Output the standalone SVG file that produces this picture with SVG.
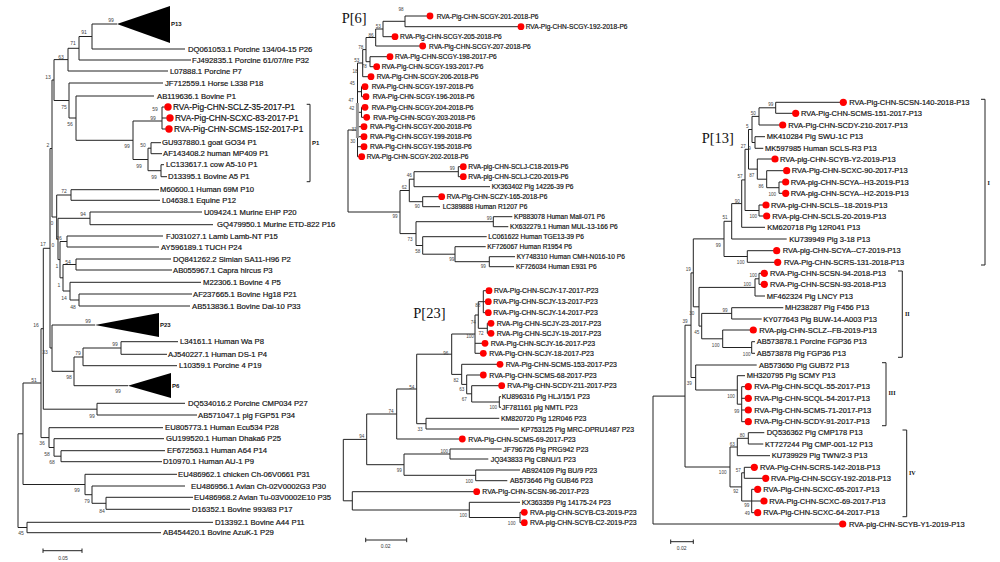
<svg xmlns="http://www.w3.org/2000/svg" width="1000" height="562" viewBox="0 0 1000 562">
<style>
.br{fill:none;stroke:#222;stroke-width:1}
text{font-family:"Liberation Sans",Arial,sans-serif;fill:#111;dominant-baseline:central;stroke:#111;stroke-width:0.18px}
.lt{font-size:7.7px}
.lr{font-size:8.3px}
.m6{font-size:6.6px}
.m23{font-size:6.9px}
.m13{font-size:7.5px}
.bs{font-size:5px;fill:#444;stroke:none;text-anchor:middle}
.bs6{font-size:4.6px;fill:#444;stroke:none;text-anchor:middle}
.dot{fill:#ff0000}
.ttl{font-family:"Liberation Serif","Times New Roman",serif;font-size:14.5px;dominant-baseline:auto;stroke:none}
.rom{font-family:"Liberation Serif","Times New Roman",serif;font-size:6px;font-weight:bold;stroke:none}
.cl{font-size:6px;font-weight:bold;stroke:none}
.sc{font-size:5px;fill:#333;stroke:none;text-anchor:middle}
</style>
<rect width="1000" height="562" fill="#fff"/>

<g id="connectors">
<path class="br" d="M92 24H117 M92 24V49 M92 49H185 M79 36.5H92 M79 36.5V60 M79 60H191 M68 48.3H79 M68 48.3V71 M68 71H168 M54 59.6H68 M54 59.6V100.5 M52 80H54 M54 100.5H69 M69 83V118 M69 83H163 M69 118H76 M76 96V140.3 M76 96H154 M76 140.3H133 M133 121V159.5 M133 121H162 M162 107V129 M162 107H168 M162 118H170 M162 129H169 M133 159.5H148 M148 148.2V170.7 M148 148.2H151 M151 142.7V153.7 M151 142.7H161 M151 153.7H162 M148 170.7H161 M161 164.7V176.7 M161 164.7H164 M161 176.7H167 M52 80V217 M50 148.5H52 M52 217H56.7 M56.7 195V239 M56.7 195H71 M71 189.7V200.3 M71 189.7H159 M71 200.3H160 M56.7 239H58 M58 218.3V259.6 M58 218.3H90 M90 212V224.7 M90 212H202 M90 224.7H213 M58 259.6H60 M60 241.5V277.8 M60 241.5H67 M67 236V247 M67 236H163 M67 247H159 M60 277.8H63 M63 264.5V291 M63 264.5H76 M76 259V270 M76 259H171 M76 270H172 M63 291H70 M70 282.3V300 M70 282.3H201 M70 300H79 M79 294V306 M79 294H192 M79 306H190 M50 148.5V348 M43.3 248.3H50 M50 348H52 M52 325V371.3 M52 325H95 M52 371.3H74 M74 357V385.7 M74 357H83 M74 385.7H128 M83 348V365.7 M83 348H121 M83 365.7H177 M121 341.7V354.3 M121 341.7H178 M121 354.3H167 M43.3 248.3V409.2 M43.3 409.2H97 M97 403.3V415 M97 403.3H185 M97 415H197 M41 328.7H43.3 M41 328.7V437.6 M41 437.6H49 M49 427.7V447.5 M49 427.7H163 M49 447.5H54 M54 438.7V456.2 M54 438.7H164 M54 456.2H61 M61 450.7V461.7 M61 450.7H165 M61 461.7H162 M23 383H41 M23 383V484.5 M23 484.5H85 M85 474.3V494.7 M85 474.3H177 M85 494.7H92 M92 486V503.3 M92 486H185 M92 503.3H106 M106 497.3V509.3 M106 497.3H193 M106 509.3H190 M18 433.8H23 M18 433.8V527.5 M18 527.5H27 M27 522.3V532.7 M27 522.3H213 M27 532.7H161"/>
<path class="br" d="M306.7 104.3H310V181.7H306.7"/>
<path class="br" d="M43 550.7H82 M43 548.5V552.9 M82 548.5V552.9"/>

<path class="br" d="M405 16V26.7 M405 16H430 M405 26.7H521 M383 21.3H405 M383 21.3V36.7 M383 36.7H395 M375.7 29H383 M375.7 29V46 M375.7 46H422.7 M366 37.5H375.7 M366 37.5V61.7 M366 61.7H370 M370 56.7V66.7 M370 56.7H390 M370 66.7H376.7 M362.7 49.6H366 M362.7 49.6V76.7 M362.7 76.7H371 M357.5 63H362.7 M357.5 63V156.7 M357.5 91.7H361.5 M361.5 86.7V96.7 M361.5 86.7H365 M361.5 96.7H366 M357.5 112.3H361.5 M361.5 107.3V117.3 M361.5 107.3H365 M361.5 117.3H366.7 M357.5 126.7H364 M357.5 136.7H364 M357.5 146.7H364 M357.5 156.7H361.7 M348 130H357.5 M348 130V212 M348 212H400 M400 190.5V233.6 M400 190.5H409.3 M409.3 179.2V201.7 M409.3 179.2H414 M414 171.7V186.7 M414 171.7H458.3 M458.3 166.7V176.7 M458.3 166.7H463.3 M458.3 176.7H463.3 M414 186.7H490 M409.3 201.7H422.7 M422.7 196.7V206.7 M422.7 196.7H441.7 M422.7 206.7H440 M400 233.6H416 M416 221.7V245.5 M416 221.7H493.3 M493.3 216.7V226.7 M493.3 216.7H512.3 M493.3 226.7H508.3 M416 245.5H422.7 M422.7 236.7V254.2 M422.7 236.7H486.7 M422.7 254.2H455 M455 246.7V261.7 M455 246.7H485.7 M455 261.7H489.3 M489.3 256.7V266.7 M489.3 256.7H515 M489.3 266.7H514"/>
<rect x="355.9" y="103" width="3" height="35" fill="#999"/>

<path class="br" d="M483.3 290.7V312.7 M483.3 290.7H489 M483.3 301.7H488.3 M483.3 312.7H488.3 M478.3 301.7H483.3 M487.3 323.3V333.3 M487.3 323.3H491 M487.3 333.3H491 M478.3 328.3H487.3 M478.3 301.7V328.3 M475 315H478.3 M475 315V353.3 M475 343.3H485 M475 353.3H483.3 M451.7 334H475 M499.3 396.7V407.3 M499.3 396.7H501 M499.3 407.3H501 M471.7 402H499.3 M471.7 385.7V402 M471.7 385.7H501.7 M466.7 393.8H471.7 M466.7 375V393.8 M466.7 375H483.3 M461.7 384.4H466.7 M461.7 364.3V384.4 M461.7 364.3H500 M451.7 374.4H461.7 M451.7 334V374.4 M416.7 354.2H451.7 M426 418.3V429 M426 418.3H499.3 M426 429H519 M416.7 423.7H426 M416.7 354.2V423.7 M396.7 389H416.7 M396.7 389V439 M396.7 439H462.3 M366.7 414H396.7 M450 449V459 M450 449H501.7 M450 459H488.3 M404 454H450 M475.7 470V480.7 M475.7 470H520 M475.7 480.7H507.3 M404 475.3H475.7 M404 454V475.3 M366.7 464.7H404 M366.7 414V464.7 M343.3 439.4H366.7 M520 512.3V522.7 M520 512.3H524.3 M520 522.7H524.3 M469.3 517.5H520 M469.3 502.3V517.5 M469.3 502.3H520 M352.3 510H469.3 M352.3 491.7V510 M352.3 491.7H476.7 M343.3 500.8H352.3 M343.3 439.4V500.8"/>
<path class="br" d="M365.7 540H406.7 M365.7 537.8V542.2 M406.7 537.8V542.2"/>

<path class="br" d="M775.7 102.3V113.3 M775.7 102.3H843.3 M775.7 113.3H795.7 M759 107.8H775.7 M759 107.8V125 M759 125H782.7 M752 116.4H759 M752 116.4V142.5 M752 142.5H755 M755 136.7V148.3 M755 136.7H765 M755 148.3H763.3 M748.5 129.5H752 M748.5 129.5V169.1 M748.5 169.1H757.3 M757.3 159V179.2 M757.3 159H775 M757.3 179.2H766.7 M766.7 170.7V187.7 M766.7 170.7H786.7 M766.7 187.7H779 M779 182V193.3 M779 182H785.7 M779 193.3H785.7 M745 149.3H748.5 M745 149.3V210.5 M745 210.5H759 M759 205V216 M759 205H766 M759 216H766.7 M741.7 179.9H745 M741.7 179.9V227.3 M741.7 227.3H765 M731.7 203.6H741.7 M731.7 203.6V239 M731.7 239H786.7 M724 221.3H731.7 M724 221.3V256.5 M724 256.5H747.3 M747.3 250.7V262.3 M747.3 250.7H776.7 M747.3 262.3H777.7 M693.3 238.9H724 M693.3 238.9V306.8 M759 273.3V284.3 M759 273.3H764.3 M759 284.3H764.3 M755 278.8H759 M755 278.8V296 M755 296H765 M699 287.4H755 M699 287.4V326.1 M693.3 306.8H699 M699 326.1H701.7 M701.7 313.4V338.8 M701.7 313.4H731.7 M731.7 307.7V319 M731.7 307.7H783.3 M731.7 319H761.7 M701.7 338.8H722.7 M722.7 330V347.5 M722.7 330H753.3 M722.7 347.5H751.7 M751.7 341.7V353.3 M751.7 341.7H755 M751.7 353.3H755 M691 272.9H693.3 M691 272.9V377.5 M691 377.5H695.7 M695.7 365V390 M695.7 365H756.7 M695.7 390H737.3 M737.3 375.7V404.2 M737.3 375.7H745 M737.3 404.2H741.7 M741.7 386.7V421.7 M741.7 386.7H748.3 M741.7 398.3H748.3 M741.7 410H748.3 M741.7 421.7H748.3 M685 325.2H691 M685 325.2V467 M685 467H730 M730 447V486.9 M730 447H737.3 M737.3 438.3V455.7 M737.3 438.3H748.3 M748.3 432.7V444 M748.3 432.7H764.3 M748.3 444H763.3 M737.3 455.7H770 M730 486.9H741.7 M741.7 472.8V501 M741.7 472.8H744.3 M744.3 467.3V478.3 M744.3 467.3H754.3 M744.3 478.3H765.7 M741.7 501H751.7 M751.7 489.3V512.7 M751.7 489.3H757.7 M751.7 501H764 M751.7 512.7H757.7 M653 396.1H685 M653 396.1V524 M653 524H842.7"/>
<path class="br" d="M981 99.3H985V265H981 M898 271H902.3V357.3H898 M882 362.7H886V425.7H882 M902.5 430H906.7V516.7H902.5"/>
<path class="br" d="M670.7 541.7H693.3 M670.7 539.5V543.9 M693.3 539.5V543.9"/>
</g>

<g id="left-tree">
<g id="n-P13clade"><polygon points="117,24 170,6 170,43" fill="#000"/><text class="cl" x="171" y="24">P13</text></g>
<g id="n-DQ061053"><text class="lt" x="188" y="49">DQ061053.1 Porcine 134/04-15 P26</text></g>
<g id="n-FJ492835"><text class="lt" x="192" y="60">FJ492835.1 Porcine 61/07/Ire P32</text></g>
<g id="n-L07888"><text class="lt" x="170" y="71">L07888.1 Porcine P7</text></g>
<g id="n-JF712559"><text class="lt" x="165" y="83">JF712559.1 Horse L338 P18</text></g>
<g id="n-AB119636"><text class="lt" x="157" y="96">AB119636.1 Bovine P1</text></g>
<g id="n-SCLZ35"><circle class="dot" cx="168" cy="107" r="3.7"/><text class="lr" x="173" y="107">RVA-Pig-CHN-SCLZ-35-2017-P1</text></g>
<g id="n-SCXC83"><circle class="dot" cx="170" cy="118" r="3.7"/><text class="lr" x="175" y="118">RVA-Pig-CHN-SCXC-83-2017-P1</text></g>
<g id="n-SCMS152"><circle class="dot" cx="169" cy="129" r="3.7"/><text class="lr" x="174" y="129">RVA-Pig-CHN-SCMS-152-2017-P1</text></g>
<g id="n-GU937880"><text class="lt" x="162" y="142.7">GU937880.1 goat GO34 P1</text></g>
<g id="n-AF143408"><text class="lt" x="163" y="153.7">AF143408.2 human MP409 P1</text></g>
<g id="n-LC133617"><text class="lt" x="166" y="164.7">LC133617.1 cow A5-10 P1</text></g>
<g id="n-D13395"><text class="lt" x="168" y="176.7">D13395.1 Bovine A5 P1</text></g>
<g id="n-M60600"><text class="lt" x="160" y="189.7">M60600.1 Human 69M P10</text></g>
<g id="n-L04638"><text class="lt" x="162" y="200.3">L04638.1 Equine P12</text></g>
<g id="n-U09424"><text class="lt" x="204" y="212">U09424.1 Murine EHP P20</text></g>
<g id="n-GQ479950"><text class="lt" x="217" y="224.7">GQ479950.1 Murine ETD-822 P16</text></g>
<g id="n-FJ031027"><text class="lt" x="166" y="236">FJ031027.1 Lamb Lamb-NT P15</text></g>
<g id="n-AY596189"><text class="lt" x="161" y="247">AY596189.1 TUCH P24</text></g>
<g id="n-DQ841262"><text class="lt" x="173" y="259">DQ841262.2 Simian SA11-H96 P2</text></g>
<g id="n-AB055967"><text class="lt" x="173" y="270">AB055967.1 Capra hircus P3</text></g>
<g id="n-M22306"><text class="lt" x="203" y="282.3">M22306.1 Bovine 4 P5</text></g>
<g id="n-AF237665"><text class="lt" x="193" y="294">AF237665.1 Bovine Hg18 P21</text></g>
<g id="n-AB513836"><text class="lt" x="192" y="306">AB513836.1 Bovine Dai-10 P33</text></g>
<g id="n-P23clade"><polygon points="95,325 159,313 159,337" fill="#000"/><text class="cl" x="160" y="325">P23</text></g>
<g id="n-L34161"><text class="lt" x="180" y="341.7">L34161.1 Human Wa P8</text></g>
<g id="n-AJ540227"><text class="lt" x="168" y="354.3">AJ540227.1 Human DS-1 P4</text></g>
<g id="n-L10359"><text class="lt" x="179" y="365.7">L10359.1 Porcine 4 P19</text></g>
<g id="n-P6clade"><polygon points="128,385.7 171,373 171,398" fill="#000"/><text class="cl" x="172" y="386">P6</text></g>
<g id="n-DQ534016"><text class="lt" x="188" y="403.3">DQ534016.2 Porcine CMP034 P27</text></g>
<g id="n-AB571047"><text class="lt" x="198" y="415">AB571047.1 pig FGP51 P34</text></g>
<g id="n-EU805773"><text class="lt" x="165" y="427.7">EU805773.1 Human Ecu534 P28</text></g>
<g id="n-GU199520"><text class="lt" x="166" y="438.7">GU199520.1 Human Dhaka6 P25</text></g>
<g id="n-EF672563"><text class="lt" x="167" y="450.7">EF672563.1 Human A64 P14</text></g>
<g id="n-D10970"><text class="lt" x="163" y="461.7">D10970.1 Human AU-1 P9</text></g>
<g id="n-EU486962"><text class="lt" x="178" y="474.3">EU486962.1 chicken Ch-06V0661 P31</text></g>
<g id="n-EU486956"><text class="lt" x="191" y="486">EU486956.1 Avian Ch-02V0002G3 P30</text></g>
<g id="n-EU486968"><text class="lt" x="194" y="497.3">EU486968.2 Avian Tu-03V0002E10 P35</text></g>
<g id="n-D16352"><text class="lt" x="192" y="509.3">D16352.1 Bovine 993/83 P17</text></g>
<g id="n-D13392"><text class="lt" x="215" y="522.3">D13392.1 Bovine A44 P11</text></g>
<g id="n-AB454420"><text class="lt" x="163" y="532.7">AB454420.1 Bovine AzuK-1 P29</text></g>
<g id="n-P1bracket"><text class="cl" x="312" y="143">P1</text></g>
<g id="left-scale"><text class="sc" x="63" y="558">0.05</text></g>
<g id="left-support">
<text class="bs" x="111" y="20">99</text><text class="bs" x="84" y="32">91</text><text class="bs" x="73" y="43">71</text><text class="bs" x="61" y="57">63</text><text class="bs" x="48" y="77">13</text><text class="bs" x="64" y="107">75</text><text class="bs" x="70" y="124">56</text><text class="bs" x="155" y="109">59</text><text class="bs" x="153" y="118">99</text><text class="bs" x="127" y="146">99</text><text class="bs" x="143" y="145">50</text><text class="bs" x="139" y="166">99</text><text class="bs" x="154" y="177">99</text><text class="bs" x="48" y="145">2</text><text class="bs" x="64" y="191">72</text><text class="bs" x="52" y="223">0</text><text class="bs" x="83" y="214">94</text><text class="bs" x="59" y="238">26</text><text class="bs" x="43" y="244">17</text><text class="bs" x="53" y="245">0</text><text class="bs" x="68" y="262">54</text><text class="bs" x="57" y="266">1</text><text class="bs" x="59" y="285">1</text><text class="bs" x="64" y="298">14</text><text class="bs" x="73" y="307">48</text><text class="bs" x="36" y="325">16</text><text class="bs" x="88" y="321">99</text><text class="bs" x="45" y="352">33</text><text class="bs" x="115" y="344">99</text><text class="bs" x="78" y="353">79</text><text class="bs" x="69" y="377">98</text><text class="bs" x="118" y="391">99</text><text class="bs" x="34" y="380">51</text><text class="bs" x="92" y="416">99</text><text class="bs" x="42" y="443">36</text><text class="bs" x="47" y="454">58</text><text class="bs" x="52" y="462">68</text><text class="bs" x="77" y="490">99</text><text class="bs" x="87" y="501">79</text><text class="bs" x="102" y="511">84</text><text class="bs" x="21" y="533">45</text>
</g>
</g>

<g id="p6-tree">
<text class="ttl" x="341.7" y="22.7">P[6]</text>
<g id="p6-201"><circle class="dot" cx="430" cy="16" r="3.4"/><text class="m6" x="436.7" y="16">RVA-Pig-CHN-SCGY-201-2018-P6</text></g>
<g id="p6-192"><circle class="dot" cx="521" cy="26.7" r="3.4"/><text class="m6" x="525.7" y="26.7">RVA-Pig-CHN-SCGY-192-2018-P6</text></g>
<g id="p6-205"><circle class="dot" cx="395" cy="36.7" r="3.4"/><text class="m6" x="400" y="36.7">RVA-Pig-CHN-SCGY-205-2018-P6</text></g>
<g id="p6-207"><circle class="dot" cx="422.7" cy="46" r="3.4"/><text class="m6" x="429" y="46">RVA-Pig-CHN-SCGY-207-2018-P6</text></g>
<g id="p6-198"><circle class="dot" cx="390" cy="56.7" r="3.4"/><text class="m6" x="395" y="56.7">RVA-Pig-CHN-SCGY-198-2017-P6</text></g>
<g id="p6-193"><circle class="dot" cx="376.7" cy="66.7" r="3.4"/><text class="m6" x="381.7" y="66.7">RVA-Pig-CHN-SCGY-193-2017-P6</text></g>
<g id="p6-206"><circle class="dot" cx="371" cy="76.7" r="3.4"/><text class="m6" x="376.7" y="76.7">RVA-Pig-CHN-SCGY-206-2018-P6</text></g>
<g id="p6-197"><circle class="dot" cx="365" cy="86.7" r="3.4"/><text class="m6" x="371.7" y="86.7">RVA-Pig-CHN-SCGY-197-2018-P6</text></g>
<g id="p6-196"><circle class="dot" cx="366" cy="96.7" r="3.4"/><text class="m6" x="372.7" y="96.7">RVA-Pig-CHN-SCGY-196-2018-P6</text></g>
<g id="p6-204"><circle class="dot" cx="365" cy="107.3" r="3.4"/><text class="m6" x="371.7" y="107.3">RVA-Pig-CHN-SCGY-204-2018-P6</text></g>
<g id="p6-203"><circle class="dot" cx="366.7" cy="117.3" r="3.4"/><text class="m6" x="373.3" y="117.3">RVA-Pig-CHN-SCGY-203-2018-P6</text></g>
<g id="p6-200"><circle class="dot" cx="364" cy="126.7" r="3.4"/><text class="m6" x="370" y="126.7">RVA-Pig-CHN-SCGY-200-2018-P6</text></g>
<g id="p6-199"><circle class="dot" cx="364" cy="136.7" r="3.4"/><text class="m6" x="370" y="136.7">RVA-Pig-CHN-SCGY-199-2018-P6</text></g>
<g id="p6-195"><circle class="dot" cx="364" cy="146.7" r="3.4"/><text class="m6" x="370" y="146.7">RVA-Pig-CHN-SCGY-195-2018-P6</text></g>
<g id="p6-202"><circle class="dot" cx="361.7" cy="156.7" r="3.4"/><text class="m6" x="366.7" y="156.7">RVA-Pig-CHN-SCGY-202-2018-P6</text></g>
<g id="p6-C18"><circle class="dot" cx="463.3" cy="166.7" r="3.4"/><text class="m6" x="468.3" y="166.7">RVA-pig-CHN-SCLJ-C18-2019-P6</text></g>
<g id="p6-C20"><circle class="dot" cx="463.3" cy="176.7" r="3.4"/><text class="m6" x="468.3" y="176.7">RVA-pig-CHN-SCLJ-C20-2019-P6</text></g>
<g id="p6-KX363402"><text class="m6" x="491.7" y="186.7">KX363402 Pig 14226-39 P6</text></g>
<g id="p6-SCZY165"><circle class="dot" cx="441.7" cy="196.7" r="3.4"/><text class="m6" x="446.7" y="196.7">RVA-Pig-CHN-SCZY-165-2018-P6</text></g>
<g id="p6-LC389888"><text class="m6" x="442.7" y="206.7">LC389888 Human R1207 P6</text></g>
<g id="p6-KP883078"><text class="m6" x="514" y="216.7">KP883078 Human Mali-071 P6</text></g>
<g id="p6-KX632279"><text class="m6" x="510" y="226.7">KX632279.1 Human MUL-13-166 P6</text></g>
<g id="p6-LC061622"><text class="m6" x="488.3" y="236.7">LC061622 Human TGE13-39 P6</text></g>
<g id="p6-KF726067"><text class="m6" x="487.3" y="246.7">KF726067 Human R1954 P6</text></g>
<g id="p6-KY748310"><text class="m6" x="516.7" y="256.7">KY748310 Human CMH-N016-10 P6</text></g>
<g id="p6-KF726034"><text class="m6" x="516" y="266.7">KF726034 Human E931 P6</text></g>
<g id="p6-support">
<text class="bs6" x="401" y="9.3">98</text><text class="bs6" x="378.3" y="26">53</text><text class="bs6" x="371" y="35">86</text><text class="bs6" x="360.7" y="47.3">78</text><text class="bs6" x="364.3" y="66.7">78</text><text class="bs6" x="356.7" y="60.7">53</text><text class="bs6" x="355" y="71.7">18</text><text class="bs6" x="352.3" y="83.3">45</text><text class="bs6" x="351" y="100">47</text><text class="bs6" x="351.7" y="108.3">42</text><text class="bs6" x="354" y="129">31</text><text class="bs6" x="352.7" y="141">30</text><text class="bs6" x="452.3" y="168.3">99</text><text class="bs6" x="409.3" y="175.7">46</text><text class="bs6" x="404.3" y="187.7">62</text><text class="bs6" x="417.3" y="206.7">90</text><text class="bs6" x="395" y="216.7">99</text><text class="bs6" x="489.3" y="218.3">99</text><text class="bs6" x="410" y="239">73</text><text class="bs6" x="417.7" y="251">58</text><text class="bs6" x="451.7" y="259">99</text><text class="bs6" x="483.3" y="266.7">99</text>
</g>
</g>

<g id="p23-tree">
<text class="ttl" x="413.3" y="317.7">P[23]</text>
<g id="p23-17"><circle class="dot" cx="489" cy="290.7" r="3.4"/><text class="m23" x="494" y="290.7">RVA-Pig-CHN-SCJY-17-2017-P23</text></g>
<g id="p23-13"><circle class="dot" cx="488.3" cy="301.7" r="3.4"/><text class="m23" x="493.3" y="301.7">RVA-Pig-CHN-SCJY-13-2017-P23</text></g>
<g id="p23-14"><circle class="dot" cx="488.3" cy="312.7" r="3.4"/><text class="m23" x="493.3" y="312.7">RVA-Pig-CHN-SCJY-14-2017-P23</text></g>
<g id="p23-23"><circle class="dot" cx="491" cy="323.3" r="3.4"/><text class="m23" x="496.7" y="323.3">RVA-Pig-CHN-SCJY-23-2017-P23</text></g>
<g id="p23-19"><circle class="dot" cx="491" cy="333.3" r="3.4"/><text class="m23" x="496.7" y="333.3">RVA-Pig-CHN-SCJY-19-2017-P23</text></g>
<g id="p23-16"><circle class="dot" cx="485" cy="343.3" r="3.4"/><text class="m23" x="490.7" y="343.3">RVA-Pig-CHN-SCJY-16-2017-P23</text></g>
<g id="p23-18"><circle class="dot" cx="483.3" cy="353.3" r="3.4"/><text class="m23" x="489.3" y="353.3">RVA-Pig-CHN-SCJY-18-2017-P23</text></g>
<g id="p23-MS153"><circle class="dot" cx="500" cy="364.3" r="3.4"/><text class="m23" x="505.7" y="364.3">RVA-Pig-CHN-SCMS-153-2017-P23</text></g>
<g id="p23-MS68"><circle class="dot" cx="483.3" cy="375" r="3.4"/><text class="m23" x="489.3" y="375">RVA-Pig-CHN-SCMS-68-2017-P23</text></g>
<g id="p23-DY211"><circle class="dot" cx="501.7" cy="385.7" r="3.4"/><text class="m23" x="507.3" y="385.7">RVA-Pig-CHN-SCDY-211-2017-P23</text></g>
<g id="p23-KU896316"><text class="m23" x="501.7" y="396.7">KU896316 Pig HLJ/15/1 P23</text></g>
<g id="p23-JF781161"><text class="m23" x="501.7" y="407.3">JF781161 pig NMTL P23</text></g>
<g id="p23-KM820720"><text class="m23" x="501" y="418.3">KM820720 Pig 12R046 P23</text></g>
<g id="p23-KP753125"><text class="m23" x="521" y="429">KP753125 Pig MRC-DPRU1487 P23</text></g>
<g id="p23-MS69"><circle class="dot" cx="462.3" cy="439" r="3.4"/><text class="m23" x="468.3" y="439">RVA-Pig-CHN-SCMS-69-2017-P23</text></g>
<g id="p23-JF796726"><text class="m23" x="503.3" y="449">JF796726 Pig PRG942 P23</text></g>
<g id="p23-JQ343833"><text class="m23" x="490.7" y="459">JQ343833 Pig CBNU/1 P23</text></g>
<g id="p23-AB924109"><text class="m23" x="521.7" y="470">AB924109 Pig BU/9 P23</text></g>
<g id="p23-AB573646"><text class="m23" x="510" y="480.7">AB573646 Pig GUB46 P23</text></g>
<g id="p23-SN96"><circle class="dot" cx="476.7" cy="491.7" r="3.4"/><text class="m23" x="482.3" y="491.7">RVA-Pig-CHN-SCSN-96-2017-P23</text></g>
<g id="p23-KX363359"><text class="m23" x="521.7" y="502.3">KX363359 Pig 14175-24 P23</text></g>
<g id="p23-C3"><circle class="dot" cx="524.3" cy="512.3" r="3.4"/><text class="m23" x="530" y="512.3">RVA-pig-CHN-SCYB-C3-2019-P23</text></g>
<g id="p23-C2"><circle class="dot" cx="524.3" cy="522.7" r="3.4"/><text class="m23" x="530" y="522.7">RVA-pig-CHN-SCYB-C2-2019-P23</text></g>
<g id="p23-scale"><text class="sc" x="385.7" y="546">0.02</text></g>
<g id="p23-support">
<text class="bs6" x="477.7" y="305">88</text><text class="bs6" x="473.3" y="322.3">74</text><text class="bs6" x="481" y="333.3">72</text><text class="bs6" x="470" y="336.7">100</text><text class="bs6" x="445.7" y="353.3">96</text><text class="bs6" x="456" y="380">82</text><text class="bs6" x="461.7" y="389.3">63</text><text class="bs6" x="464.3" y="399">67</text><text class="bs6" x="493.3" y="407.3">100</text><text class="bs6" x="411.7" y="387.7">54</text><text class="bs6" x="420" y="429">33</text><text class="bs6" x="391" y="411">74</text><text class="bs6" x="361.7" y="436.7">94</text><text class="bs6" x="444.3" y="451">100</text><text class="bs6" x="399.3" y="470.7">99</text><text class="bs6" x="469.3" y="481">100</text><text class="bs6" x="463.3" y="515">100</text><text class="bs6" x="511.7" y="523.3">100</text>
</g>
</g>

<g id="p13-tree">
<text class="ttl" x="701.7" y="143.3">P[13]</text>
<g id="p13-SN140"><circle class="dot" cx="843.3" cy="102.3" r="3.6"/><text class="m13" x="849.3" y="102.3">RVA-Pig-CHN-SCSN-140-2018-P13</text></g>
<g id="p13-MS151"><circle class="dot" cx="795.7" cy="113.3" r="3.6"/><text class="m13" x="801" y="113.3">RVA-Pig-CHN-SCMS-151-2017-P13</text></g>
<g id="p13-DY210"><circle class="dot" cx="782.7" cy="125" r="3.6"/><text class="m13" x="788.3" y="125">RVA-Pig-CHN-SCDY-210-2017-P13</text></g>
<g id="p13-MK410284"><text class="m13" x="766.7" y="136.7">MK410284 Pig SWU-1C P13</text></g>
<g id="p13-MK597985"><text class="m13" x="765" y="148.3">MK597985 Human SCLS-R3 P13</text></g>
<g id="p13-YBY2"><circle class="dot" cx="775" cy="159" r="3.6"/><text class="m13" x="780" y="159">RVA-pig-CHN-SCYB-Y2-2019-P13</text></g>
<g id="p13-XC90"><circle class="dot" cx="786.7" cy="170.7" r="3.6"/><text class="m13" x="791.7" y="170.7">RVA-Pig-CHN-SCXC-90-2017-P13</text></g>
<g id="p13-YAH3"><circle class="dot" cx="785.7" cy="182" r="3.6"/><text class="m13" x="790.7" y="182">RVA-pig-CHN-SCYA--H3-2019-P13</text></g>
<g id="p13-YAH2"><circle class="dot" cx="785.7" cy="193.3" r="3.6"/><text class="m13" x="790.7" y="193.3">RVA-pig-CHN-SCYA--H2-2019-P13</text></g>
<g id="p13-LS18"><circle class="dot" cx="766" cy="205" r="3.6"/><text class="m13" x="771" y="205">RVA-pig-CHN-SCLS--18-2019-P13</text></g>
<g id="p13-LS20"><circle class="dot" cx="766.7" cy="216" r="3.6"/><text class="m13" x="772.3" y="216">RVA-pig-CHN-SCLS-20-2019-P13</text></g>
<g id="p13-KM620718"><text class="m13" x="767.3" y="227.3">KM620718 Pig 12R041 P13</text></g>
<g id="p13-KU739949"><text class="m13" x="789.3" y="239">KU739949 Pig 3-18 P13</text></g>
<g id="p13-YAC7"><circle class="dot" cx="776.7" cy="250.7" r="3.6"/><text class="m13" x="782.7" y="250.7">RVA-pig-CHN-SCYA--C7-2019-P13</text></g>
<g id="p13-RS131"><circle class="dot" cx="777.7" cy="262.3" r="3.6"/><text class="m13" x="784" y="262.3">RVA-Pig-CHN-SCRS-131-2018-P13</text></g>
<g id="p13-SN94"><circle class="dot" cx="764.3" cy="273.3" r="3.6"/><text class="m13" x="770" y="273.3">RVA-Pig-CHN-SCSN-94-2018-P13</text></g>
<g id="p13-SN93"><circle class="dot" cx="764.3" cy="284.3" r="3.6"/><text class="m13" x="770" y="284.3">RVA-Pig-CHN-SCSN-93-2018-P13</text></g>
<g id="p13-MF462324"><text class="m13" x="766.7" y="296">MF462324 Pig LNCY P13</text></g>
<g id="p13-MH238287"><text class="m13" x="785" y="307.7">MH238287 Pig F456 P13</text></g>
<g id="p13-KY077643"><text class="m13" x="763.3" y="319">KY077643 Pig BUW-14-A003 P13</text></g>
<g id="p13-LZFB"><circle class="dot" cx="753.3" cy="330" r="3.6"/><text class="m13" x="759.3" y="330">RVA-pig-CHN-SCLZ--FB-2019-P13</text></g>
<g id="p13-AB573878-1"><text class="m13" x="756.7" y="341.7">AB573878.1 Porcine FGP36 P13</text></g>
<g id="p13-AB573878"><text class="m13" x="756.7" y="353.3">AB573878 Pig FGP36 P13</text></g>
<g id="p13-AB573650"><text class="m13" x="759" y="365">AB573650 Pig GUB72 P13</text></g>
<g id="p13-MH320795"><text class="m13" x="746.7" y="375.7">MH320795 Pig SCMY P13</text></g>
<g id="p13-QL55"><circle class="dot" cx="748.3" cy="386.7" r="3.6"/><text class="m13" x="754.3" y="386.7">RVA-Pig-CHN-SCQL-55-2017-P13</text></g>
<g id="p13-QL54"><circle class="dot" cx="748.3" cy="398.3" r="3.6"/><text class="m13" x="754.3" y="398.3">RVA-Pig-CHN-SCQL-54-2017-P13</text></g>
<g id="p13-MS71"><circle class="dot" cx="748.3" cy="410" r="3.6"/><text class="m13" x="754.3" y="410">RVA-Pig-CHN-SCMS-71-2017-P13</text></g>
<g id="p13-DY91"><circle class="dot" cx="748.3" cy="421.7" r="3.6"/><text class="m13" x="754.3" y="421.7">RVA-Pig-CHN-SCDY-91-2017-P13</text></g>
<g id="p13-DQ536362"><text class="m13" x="766.7" y="432.7">DQ536362 Pig CMP178 P13</text></g>
<g id="p13-KT727244"><text class="m13" x="765" y="444">KT727244 Pig CMP-001-12 P13</text></g>
<g id="p13-KU739929"><text class="m13" x="771.7" y="455.7">KU739929 Pig TWN/2-3 P13</text></g>
<g id="p13-RS142"><circle class="dot" cx="754.3" cy="467.3" r="3.6"/><text class="m13" x="760" y="467.3">RVA-Pig-CHN-SCRS-142-2018-P13</text></g>
<g id="p13-GY192"><circle class="dot" cx="765.7" cy="478.3" r="3.6"/><text class="m13" x="771" y="478.3">RVA-Pig-CHN-SCGY-192-2018-P13</text></g>
<g id="p13-XC65"><circle class="dot" cx="757.7" cy="489.3" r="3.6"/><text class="m13" x="763.3" y="489.3">RVA-Pig-CHN-SCXC-65-2017-P13</text></g>
<g id="p13-XC69"><circle class="dot" cx="764" cy="501" r="3.6"/><text class="m13" x="769.3" y="501">RVA-Pig-CHN-SCXC-69-2017-P13</text></g>
<g id="p13-XC64"><circle class="dot" cx="757.7" cy="512.7" r="3.6"/><text class="m13" x="763.3" y="512.7">RVA-Pig-CHN-SCXC-64-2017-P13</text></g>
<g id="p13-YBY1"><circle class="dot" cx="842.7" cy="524" r="3.6"/><text class="m13" x="849" y="524">RVA-pig-CHN-SCYB-Y1-2019-P13</text></g>
<g id="p13-groups"><text class="rom" x="987.5" y="182.7">I</text><text class="rom" x="905" y="314">II</text><text class="rom" x="888.5" y="393.3">III</text><text class="rom" x="909" y="473.3">IV</text></g>
<g id="p13-scale"><text class="sc" x="681.7" y="548">0.02</text></g>
<g id="p13-support">
<text class="bs6" x="770.7" y="104.3">99</text><text class="bs6" x="753.3" y="113.3">50</text><text class="bs6" x="747.3" y="126.7">5</text><text class="bs6" x="743.3" y="146">27</text><text class="bs6" x="749.5" y="148.3">9</text><text class="bs6" x="751.7" y="175">87</text><text class="bs6" x="761" y="186">86</text><text class="bs6" x="772.3" y="194.3">100</text><text class="bs6" x="740" y="176.7">57</text><text class="bs6" x="737.3" y="201">90</text><text class="bs6" x="725" y="217.3">51</text><text class="bs6" x="753.3" y="216">100</text><text class="bs6" x="718.3" y="245">99</text><text class="bs6" x="740.7" y="262.7">100</text><text class="bs6" x="688.3" y="269.3">19</text><text class="bs6" x="753.3" y="275">100</text><text class="bs6" x="747.3" y="284">100</text><text class="bs6" x="725" y="310">99</text><text class="bs6" x="691.7" y="313.3">30</text><text class="bs6" x="696.7" y="332.3">45</text><text class="bs6" x="715.7" y="345">100</text><text class="bs6" x="746.7" y="354">100</text><text class="bs6" x="685" y="321.7">39</text><text class="bs6" x="689.3" y="383.3">39</text><text class="bs6" x="731" y="396">100</text><text class="bs6" x="736.7" y="411">99</text><text class="bs6" x="742.3" y="435">80</text><text class="bs6" x="732.3" y="444">63</text><text class="bs6" x="722.7" y="472.7">100</text><text class="bs6" x="738.3" y="470">57</text><text class="bs6" x="735.7" y="491.7">92</text><text class="bs6" x="746.7" y="505">99</text><text class="bs6" x="747.3" y="513.3">49</text>
</g>
</g>
</svg>
